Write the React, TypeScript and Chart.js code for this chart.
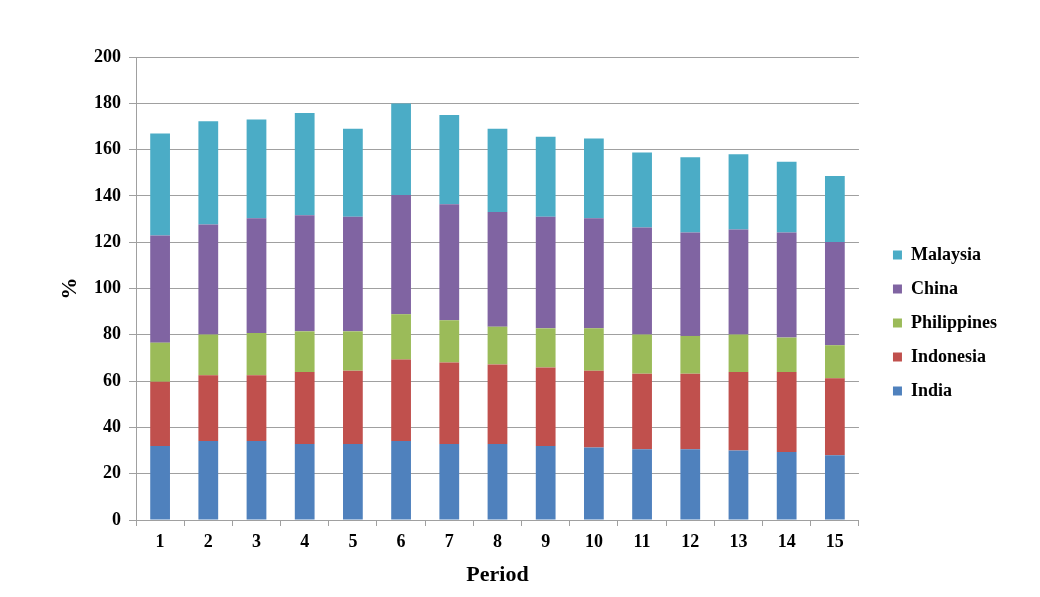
import React, { useEffect, useRef } from 'react';
import { Chart, registerables } from 'chart.js';

Chart.register(...registerables);

const periods = ['1', '2', '3', '4', '5', '6', '7', '8', '9', '10', '11', '12', '13', '14', '15'];

const india = [32.0, 34.1, 34.1, 32.8, 32.8, 34.1, 32.8, 32.8, 32.0, 31.3, 30.6, 30.6, 30.0, 29.4, 28.0];
const indonesia = [27.7, 28.4, 28.4, 31.1, 31.7, 35.2, 35.2, 34.4, 33.9, 33.2, 32.6, 32.6, 33.9, 34.5, 33.2];
const philippines = [16.9, 17.6, 18.3, 17.6, 17.0, 19.6, 18.3, 16.3, 16.9, 18.3, 16.9, 16.3, 16.2, 14.9, 14.3];
const china = [46.3, 47.5, 49.5, 50.1, 49.5, 51.5, 50.1, 49.5, 48.2, 47.5, 46.2, 44.7, 45.4, 45.4, 44.6];
const malaysia = [44.1, 44.7, 42.7, 44.2, 38.0, 39.5, 38.6, 36.0, 34.5, 34.5, 32.4, 32.5, 32.5, 30.5, 28.5];

const seriesNames = ['India', 'Indonesia', 'Philippines', 'China', 'Malaysia'];
const seriesColors = ['#4f81bd', '#c0504d', '#9bbb59', '#8064a2', '#4bacc6'];

const serif = '"Liberation Serif", "Times New Roman", serif';
const gridColor = '#a0a0a0';

export default function App() {
    const canvas = useRef<HTMLCanvasElement>(null);

    useEffect(() => {
        const values = [india, indonesia, philippines, china, malaysia];
        const chart = new Chart(canvas.current!, {
            type: 'bar',
            data: {
                labels: periods,
                datasets: values.map((v, i) => ({
                    label: seriesNames[i],
                    data: v,
                    backgroundColor: seriesColors[i],
                    borderWidth: 0,
                    barPercentage: 0.41,
                    categoryPercentage: 1.0,
                })),
            },
            options: {
                responsive: false,
                animation: false,
                layout: { padding: { left: 0, top: 57, right: 33, bottom: 8 } },
                plugins: {
                    tooltip: { enabled: false },
                    legend: {
                        position: 'right',
                        reverse: true,
                        labels: {
                            boxWidth: 9,
                            boxHeight: 9,
                            padding: 16,
                            color: '#000',
                            font: { family: serif, size: 18, weight: 'bold' },
                        },
                    },
                },
                scales: {
                    x: {
                        stacked: true,
                        grid: {
                            offset: true,
                            drawOnChartArea: false,
                            color: gridColor,
                            tickLength: 6,
                        },
                        border: { color: gridColor },
                        ticks: {
                            color: '#000',
                            padding: 6,
                            font: { family: serif, size: 18, weight: 'bold' },
                        },
                        title: {
                            display: true,
                            text: 'Period',
                            color: '#000',
                            padding: { top: 0, bottom: 0 },
                            font: { family: serif, size: 22, weight: 'bold' },
                        },
                        afterFit: (s: any) => { s.height = 69; },
                    },
                    y: {
                        stacked: true,
                        min: 0,
                        max: 200,
                        ticks: {
                            stepSize: 20,
                            color: '#000',
                            padding: 8,
                            font: { family: serif, size: 18, weight: 'bold' },
                        },
                        grid: { color: gridColor, tickLength: 7 },
                        border: { color: gridColor },
                        title: {
                            display: true,
                            text: '%',
                            color: '#000',
                            padding: { top: 57, bottom: 0 },
                            font: { family: serif, size: 22, weight: 'bold' },
                        },
                        afterFit: (s: any) => { s.width = 136; },
                    },
                    spacer: {
                        type: 'linear',
                        position: 'right',
                        display: true,
                        grid: { display: false },
                        border: { display: false },
                        ticks: { display: false },
                        afterFit: (s: any) => { s.width = 18; },
                    },
                },
            },
        });
        return () => {
            chart.destroy();
        };
    }, []);

    return (
        <canvas
            ref={canvas}
            width={1040}
            height={597}
            style={{ position: 'absolute', left: 0, top: 0, width: 1040, height: 597 }}
        />
    );
}
